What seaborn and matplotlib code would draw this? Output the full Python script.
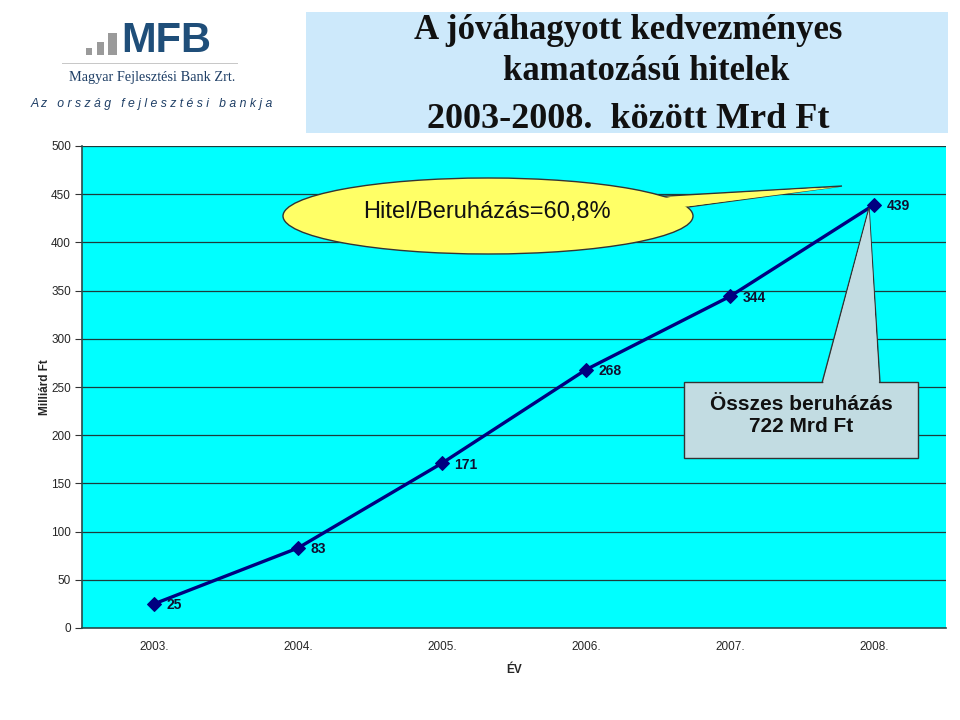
import matplotlib
matplotlib.use("Agg")
import matplotlib.pyplot as plt
import seaborn as sns
import pandas as pd
from matplotlib.patches import Rectangle, Ellipse, Polygon

# ---- data ----
years = ["2003.", "2004.", "2005.", "2006.", "2007.", "2008."]
values = [25, 83, 171, 268, 344, 439]
yticks = [0, 50, 100, 150, 200, 250, 300, 350, 400, 450, 500]
title_lines = ["A jóváhagyott kedvezményes", "kamatozású hitelek", "2003-2008.  között Mrd Ft"]
ylabel = "Milliárd Ft"
xlabel = "ÉV"
ratio_text = "Hitel/Beruházás=60,8%"
total_text = "Összes beruházás\n722 Mrd Ft"

sns.set_style("white")
plt.rcParams["font.family"] = ["Liberation Sans", "DejaVu Sans"]

W, H = 960, 720
fig = plt.figure(figsize=(W / 100, H / 100), dpi=100)
fig.patch.set_facecolor("white")

def fx(px):
    return px / W

def fy(py):
    return 1 - py / H

ax = fig.add_axes([fx(82), fy(628), fx(946) - fx(82), fy(146) - fy(628)])
ax.set_facecolor("#00FFFF")

df = pd.DataFrame({"year": years, "value": values})
xpos = list(range(len(years)))
df["x"] = xpos
sns.lineplot(data=df, x="x", y="value", ax=ax, color="#000080", linewidth=2.4,
             marker="D", markersize=7, markeredgecolor="#000080", zorder=5)

ax.set_xlim(-0.5, len(years) - 0.5)
ax.set_ylim(0, 500)
ax.set_yticks(yticks)
ax.set_yticklabels([str(v) for v in yticks], fontsize=8.5)
ax.yaxis.grid(True, color="#1c3c3c", linewidth=0.9)
ax.set_axisbelow(True)
ax.set_xticks(xpos)
ax.set_xticklabels(years, fontsize=8.5)
ax.set_xticks([i - 0.5 for i in range(len(years) + 1)], minor=True)
ax.tick_params(axis="x", which="major", length=0, pad=9)
ax.tick_params(axis="x", which="minor", length=5, color="#333333", direction="out")
ax.tick_params(axis="y", length=5, color="#333333", direction="out", left=True, pad=3)
for s in ["top", "right"]:
    ax.spines[s].set_visible(False)
for s in ["left", "bottom"]:
    ax.spines[s].set_color("#2a4a4a")
    ax.spines[s].set_linewidth(1.2)
ax.set_xlabel(xlabel, fontsize=8.5, fontweight="bold", labelpad=8)
ax.set_ylabel(ylabel, fontsize=8.5, fontweight="bold", labelpad=0)

for x, v in zip(xpos, values):
    ax.annotate(str(v), (x, v), xytext=(9, -1), textcoords="offset points",
                ha="left", va="center", fontsize=10, fontweight="bold",
                color="#101030", zorder=6)

# ---- ratio callout (yellow ellipse) ----
ycol = "#FFFF66"
tail1 = Polygon([(fx(650), fy(197)), (fx(842), fy(186)), (fx(688), fy(207))],
                closed=True, transform=fig.transFigure, facecolor=ycol,
                edgecolor="#333333", linewidth=1.0, zorder=7)
ell = Ellipse((fx(488), fy(216)), fx(410), 76 / H, transform=fig.transFigure,
              facecolor=ycol, edgecolor="#333333", linewidth=1.0, zorder=8)
tail1b = Polygon([(fx(645), fy(199)), (fx(838), fy(187)), (fx(683), fy(207))],
                 closed=True, transform=fig.transFigure, facecolor=ycol,
                 edgecolor="none", zorder=9)
for p in (tail1, ell, tail1b):
    fig.add_artist(p)
fig.text(fx(487), fy(212), ratio_text, ha="center", va="center", fontsize=17,
         color="#111111", zorder=10)

# ---- total callout (grey box) ----
gcol = "#C2DCE2"
tail2 = Polygon([(fx(822), fy(383)), (fx(869), fy(208)), (fx(880), fy(383))],
                closed=True, transform=fig.transFigure, facecolor=gcol,
                edgecolor="#333333", linewidth=1.0, zorder=7)
box = Rectangle((fx(684), fy(458)), fx(918) - fx(684), fy(382) - fy(458),
                transform=fig.transFigure, facecolor=gcol, edgecolor="#333333",
                linewidth=1.0, zorder=8)
tail2b = Polygon([(fx(823), fy(384)), (fx(869), fy(210)), (fx(879), fy(384))],
                 closed=True, transform=fig.transFigure, facecolor=gcol,
                 edgecolor="none", zorder=9)
for p in (tail2, box, tail2b):
    fig.add_artist(p)
fig.text(fx(801), fy(416), total_text, ha="center", va="center", fontsize=15,
         fontweight="bold", color="#111111", linespacing=1.2, zorder=10)

# ---- title box ----
fig.add_artist(Rectangle((fx(306), fy(133)), fx(948) - fx(306), fy(12) - fy(133),
                         transform=fig.transFigure, facecolor="#CDE9FB",
                         edgecolor="none", zorder=1))
title_pos = [(628, 39), (646, 80), (628, 128)]
title_sizes = [25, 25, 26]
for t, (px, py), fs in zip(title_lines, title_pos, title_sizes):
    fig.text(fx(px), fy(py), t, ha="center", va="baseline", fontsize=fs,
             fontweight="bold", family=["Liberation Serif", "DejaVu Serif"],
             color="#111111", zorder=2)

# ---- logo ----
for (x0, x1, y0, y1) in [(86, 92, 48, 55), (97, 104, 42, 55), (108, 117, 33, 55)]:
    fig.add_artist(Rectangle((fx(x0), fy(y1)), fx(x1 - x0), (y1 - y0) / H,
                             transform=fig.transFigure, facecolor="#9a9a9a",
                             edgecolor="none"))
fig.text(fx(121), fy(41), "MFB", ha="left", va="center", fontsize=30,
         fontweight="bold", color="#1F4E79")
fig.add_artist(Rectangle((fx(62), fy(64)), fx(176), 1 / H,
                         transform=fig.transFigure, facecolor="#c8c8c8", edgecolor="none"))
fig.text(fx(152), fy(77), "Magyar Fejlesztési Bank Zrt.", ha="center", va="center",
         fontsize=10.3, family=["Liberation Serif", "DejaVu Serif"], color="#1F3F66")
fig.text(fx(152), fy(104), "A z   o r s z á g   f e j l e s z t é s i   b a n k j a",
         ha="center", va="center", fontsize=8.8, style="italic", color="#1F3F66")

fig.savefig("out.png", dpi=100)
